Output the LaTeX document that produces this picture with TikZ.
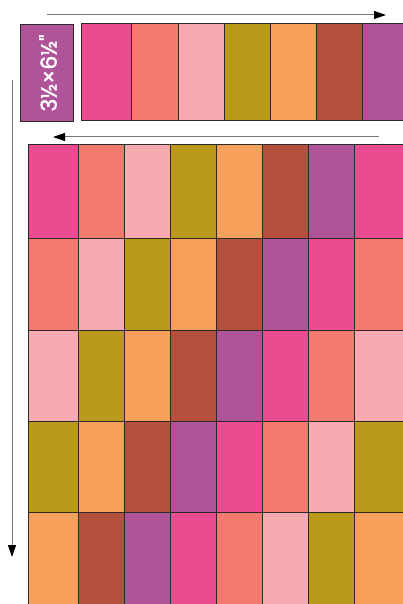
\documentclass[tikz,border=0pt]{standalone}
\usepackage{fontspec}
\newfontfamily\labelfont[FakeBold=1.6]{Poppins}
\usetikzlibrary{arrows.meta}
\definecolor{cP}{RGB}{235,75,145}
\definecolor{cS}{RGB}{242,122,110}
\definecolor{cL}{RGB}{247,170,175}
\definecolor{cO}{RGB}{187,153,26}
\definecolor{cG}{RGB}{246,160,91}
\definecolor{cB}{RGB}{182,80,62}
\definecolor{cU}{RGB}{176,84,153}
\definecolor{edge}{RGB}{45,40,40}
\definecolor{arrowgray}{RGB}{120,120,120}
\tikzset{
  patch/.style={draw=edge,line width=1pt},
  guide/.style={draw=arrowgray,line width=1pt,-{Triangle[length=12pt,width=8pt,fill=black,color=black]}},
}
\begin{document}
\begin{tikzpicture}[x=1pt,y=-1pt]
\useasboundingbox (0,0) rectangle (403,604);
\clip (0,0) rectangle (403,604);
% label block
\node[patch,fill=cU,minimum width=53pt,minimum height=97pt,inner sep=0pt,anchor=north west] (lbl) at (20,24) {};
\node[rotate=90,text=white,font=\labelfont\fontsize{22}{22}\selectfont] (lbltext) at ([xshift=1pt]lbl.center) {3½×6½"};
% top strip
\foreach \c [count=\i from 0] in {cP,cS,cL,cO,cG,cB,cU} {
  \pgfmathsetmacro{\xa}{{81,131,178,224,270,316,362}[\i]}
  \pgfmathsetmacro{\xb}{{131,178,224,270,316,362,420}[\i]}
  \path[patch,fill=\c] (\xa,24) rectangle (\xb,121);
}
% grid
\def\cols{{28,78,124,170,216,262,308,354,420}}
\def\rows{{145,238,330,421,512,620}}
\def\seq{{"cP","cS","cL","cO","cG","cB","cU"}}
\foreach \r in {0,...,4} {
  \foreach \k in {0,...,7} {
    \pgfmathsetmacro{\xa}{\cols[\k]}
    \pgfmathsetmacro{\xb}{\cols[\k+1]}
    \pgfmathsetmacro{\ya}{\rows[\r]}
    \pgfmathsetmacro{\yb}{\rows[\r+1]}
    \pgfmathtruncatemacro{\ci}{mod(\k+\r,7)}
    \pgfmathsetmacro{\cn}{\seq[\ci]}
    \path[patch,fill=\cn] (\xa,\ya) rectangle (\xb,\yb);
  }
}
% arrows
\coordinate (a1s) at (47,15);
\coordinate (a1e) at (386,15);
\draw[guide] (a1s) -- (a1e);
\coordinate (a2s) at (379,137);
\coordinate (a2e) at (53,137);
\draw[guide] (a2s) -- (a2e);
\coordinate (a3s) at (12,80);
\coordinate (a3e) at (12,557);
\draw[guide] (a3s) -- (a3e);
\end{tikzpicture}
\end{document}
